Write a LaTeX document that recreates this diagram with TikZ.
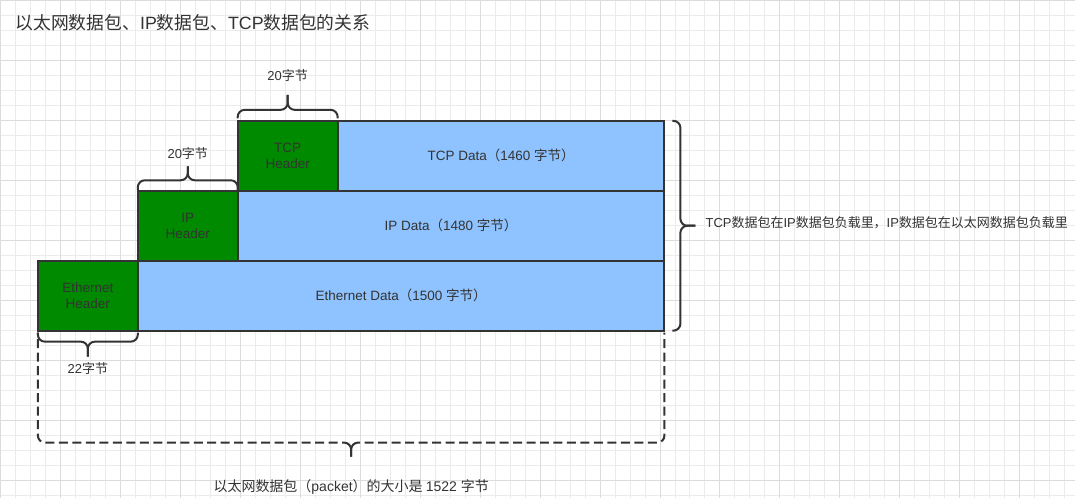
\documentclass[tikz,border=0pt]{standalone}
\usepackage{fontspec}
\setmainfont{Liberation Sans}
\newfontfamily\cjk{Noto Sans CJK SC}
\usetikzlibrary{positioning,calc}
\definecolor{hdrgreen}{HTML}{008A00}
\definecolor{datablue}{HTML}{8FC3FF}
\definecolor{inkgray}{HTML}{333333}
\definecolor{gridminor}{HTML}{EBEBEB}
\definecolor{gridmajor}{HTML}{DCDCDC}
\begin{document}
\begin{tikzpicture}[
    x=1pt,y=1pt,
    node distance=0pt,
    box/.style={draw=inkgray,line width=2pt,minimum height=70pt,inner sep=0pt,outer sep=0pt,align=center,text=inkgray,font=\fontsize{13.5}{16}\selectfont},
    hdr/.style={box,fill=hdrgreen,minimum width=100pt},
    payload/.style={box,fill=datablue},
    brace/.style={draw=inkgray,line width=2pt,rounded corners=7pt},
    dashbrace/.style={brace,dash pattern=on 9pt off 4.5pt,dash phase=9pt},
    lbl/.style={text=inkgray,inner sep=0pt,font=\fontsize{13}{16}\selectfont}
  ]
    % background grid
    \fill[white] (0,-498) rectangle (1075,0);
    \draw[gridminor,line width=0.8pt] (0,-498) grid[step=15pt] (1075,0);
    \draw[gridmajor,line width=0.8pt] (0,-498) grid[step=60pt] (1075,0);
    \useasboundingbox (0,-498) rectangle (1075,0);

    \node[lbl,anchor=west,font=\fontsize{17.8}{22}\selectfont] (title) at (15,-22) {{\cjk 以太网数据包、}IP{\cjk 数据包、}TCP{\cjk 数据包的关系}};

    % the three packets
    \node[hdr,anchor=north west] (ethhdr) at (37.5,-260.5) {Ethernet\\Header};
    \node[payload,right=of ethhdr,minimum width=527pt] (ethdata) {Ethernet Data{\cjk （}1500 {\cjk 字节）}};
    \node[hdr,above right=of ethhdr] (iphdr) {IP\\Header};
    \node[payload,right=of iphdr,minimum width=427pt] (ipdata) {IP Data{\cjk （}1480 {\cjk 字节）}};
    \node[hdr,above right=of iphdr] (tcphdr) {TCP\\Header};
    \node[payload,right=of tcphdr,minimum width=327pt] (tcpdata) {TCP Data{\cjk （}1460 {\cjk 字节）}};

    % header sizes
    \draw[brace] ([yshift=2.5pt]tcphdr.north west) |- ([yshift=11pt]tcphdr.north) -- ([yshift=26pt]tcphdr.north);
    \draw[brace] ([yshift=2.5pt]tcphdr.north east) |- ([yshift=11pt]tcphdr.north) -- ([yshift=26pt]tcphdr.north);
    \node[lbl] (tcplen) at ([yshift=45pt]tcphdr.north) {20{\cjk 字节}};
    \draw[brace] ([yshift=0.5pt]iphdr.north west) |- ([yshift=10.5pt]iphdr.north) -- ([yshift=24.5pt]iphdr.north);
    \draw[brace] ([yshift=0.5pt]iphdr.north east) |- ([yshift=10.5pt]iphdr.north) -- ([yshift=24.5pt]iphdr.north);
    \node[lbl] (iplen) at ([yshift=37.5pt]iphdr.north) {20{\cjk 字节}};
    \draw[brace] ([yshift=-2pt]ethhdr.south west) |- ([yshift=-11pt]ethhdr.south) -- ([yshift=-26pt]ethhdr.south);
    \draw[brace] ([yshift=-2pt]ethhdr.south east) |- ([yshift=-11pt]ethhdr.south) -- ([yshift=-26pt]ethhdr.south);
    \node[lbl] (ethlen) at ([yshift=-38pt]ethhdr.south) {22{\cjk 字节}};

    % nesting note
    \draw[brace] ([xshift=8pt]tcpdata.north east) -| ([xshift=16pt]ipdata.east) -- ([xshift=31pt]ipdata.east);
    \draw[brace] ([xshift=8pt]ethdata.south east) -| ([xshift=16pt]ipdata.east) -- ([xshift=31pt]ipdata.east);
    \node[lbl,anchor=west] (nesting) at ([xshift=41pt,yshift=3pt]ipdata.east) {TCP{\cjk 数据包在}IP{\cjk 数据包负载里，}IP{\cjk 数据包在以太网数据包负载里}};

    % whole packet
    \coordinate (pktmid) at ($(ethhdr.south west)!.5!(ethdata.south east)$);
    \draw[brace] ([xshift=-9pt,yshift=-112pt]pktmid) -| ([yshift=-126pt]pktmid);
    \draw[brace] ([xshift=9pt,yshift=-112pt]pktmid) -| ([yshift=-126pt]pktmid);
    \draw[dashbrace] ([xshift=-9pt,yshift=-112pt]pktmid) -| ([yshift=-2pt]ethhdr.south west);
    \draw[dashbrace] ([xshift=9pt,yshift=-112pt]pktmid) -| ([yshift=-2pt]ethdata.south east);
    \node[lbl,font=\fontsize{14}{16}\selectfont] (pktlen) at ([yshift=-156pt]pktmid) {{\cjk 以太网数据包（}packet{\cjk ）的大小是 }1522 {\cjk 字节}};
\end{tikzpicture}
\end{document}
